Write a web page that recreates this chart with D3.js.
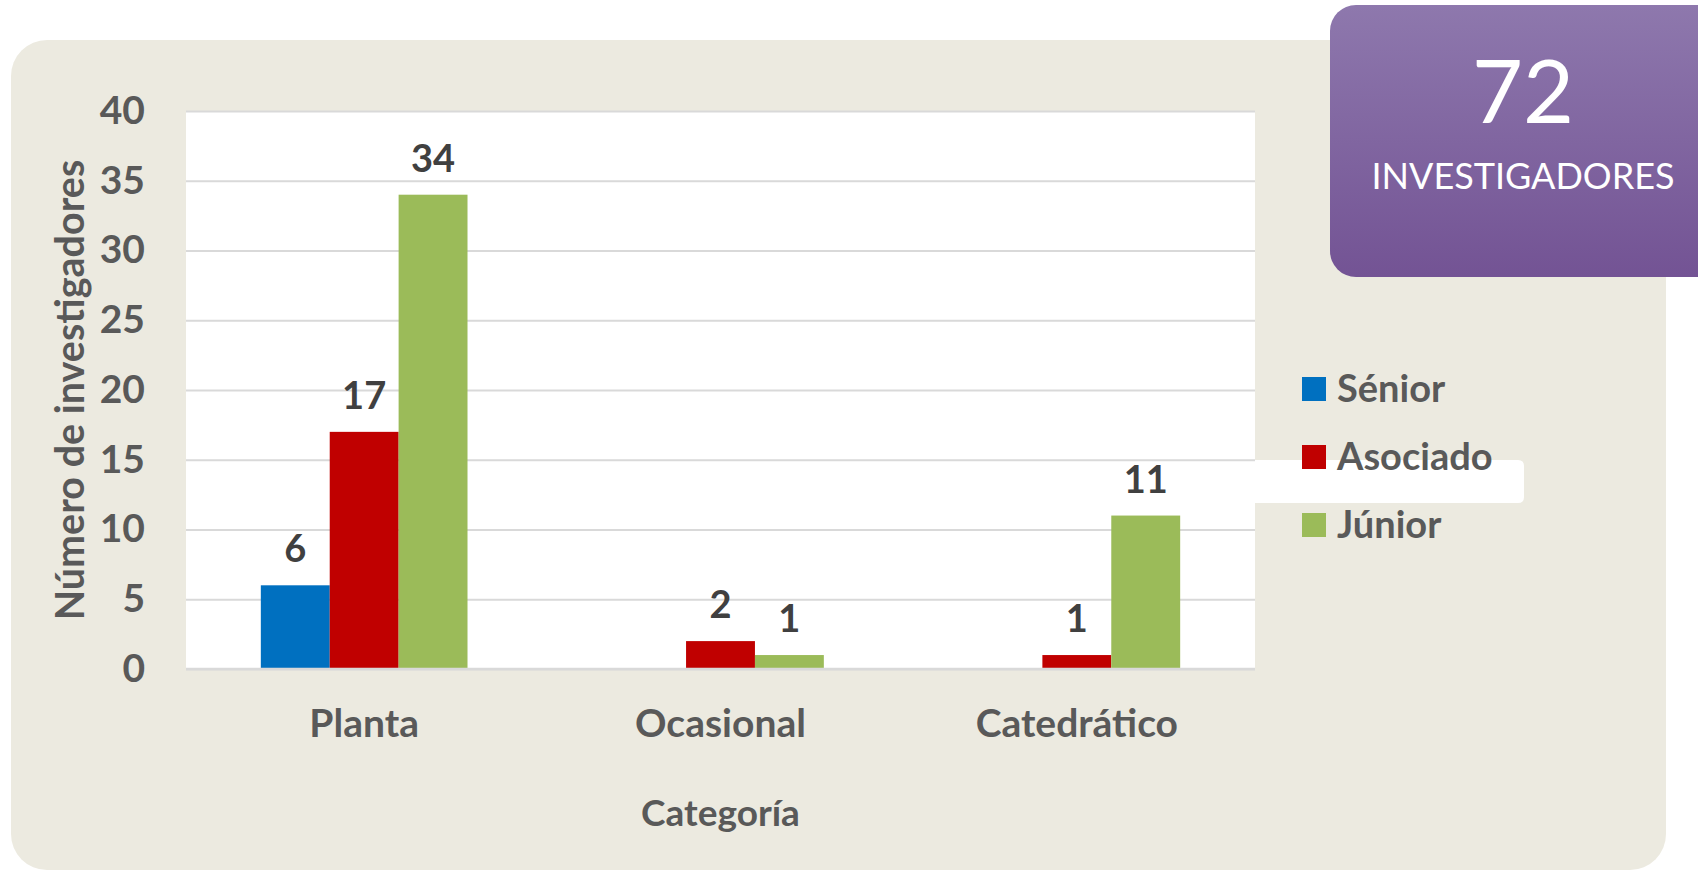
<!DOCTYPE html>
<html>
<head>
<meta charset="utf-8">
<script src="https://cdn.jsdelivr.net/npm/d3@7"></script>
<style>
	html, body { margin: 0; padding: 0; background: #fff; }
	svg { display: block; font-family: Lato, 'Open Sans', sans-serif; }
</style>
</head>
<body>
<svg id="chart" width="1698" height="873"></svg>
<script>
const CATEGORIES = ['Planta', 'Ocasional', 'Catedrático'];
const SERIES = ['Sénior', 'Asociado', 'Júnior'];
const SENIOR = [6, null, null];
const ASOCIADO = [17, 2, 1];
const JUNIOR = [34, 1, 11];
const Y_TICKS = [0, 5, 10, 15, 20, 25, 30, 35, 40];
const COLORS = ['#0070C0', '#C00000', '#9BBB59'];

const Y_TITLE = 'Número de investigadores';
const X_TITLE = 'Categoría';
const BADGE_LABEL = 'INVESTIGADORES';

const PLOT = { left: 186, right: 1255, top: 111, bottom: 669 };
const TEXT = '#595959';

const $svg = d3.select('#chart');

function setupBackground() {
	$svg.append('rect')
		.attr('x', 11).attr('y', 40)
		.attr('width', 1655).attr('height', 830)
		.attr('rx', 36)
		.attr('fill', '#ECEAE0');

	$svg.append('rect')
		.attr('x', PLOT.left).attr('y', PLOT.top)
		.attr('width', PLOT.right - PLOT.left)
		.attr('height', PLOT.bottom - PLOT.top)
		.attr('fill', '#fff');

	// the odd white strip that runs behind the legend
	$svg.append('path')
		.attr('d', 'M1255,460 H1518 Q1524,460 1524,466 V497 Q1524,503 1518,503 H1255 Z')
		.attr('fill', '#fff');
}

function setupChart() {
	const rows = CATEGORIES.map((c, i) => ({
		key: c,
		values: [SENIOR[i], ASOCIADO[i], JUNIOR[i]]
	}));

	const x0 = d3.scaleBand()
		.domain(CATEGORIES)
		.range([PLOT.left, PLOT.right])
		.paddingInner(0.42)
		.paddingOuter(0.21);

	const x1 = d3.scaleBand()
		.domain(SERIES)
		.range([0, x0.bandwidth()]);

	const y = d3.scaleLinear()
		.domain([0, 40])
		.range([PLOT.bottom, PLOT.top]);

	// gridlines
	const yAxis = d3.axisLeft(y).tickValues(Y_TICKS).tickSize(-(PLOT.right - PLOT.left)).tickPadding(40);
	const $y = $svg.append('g')
		.attr('transform', `translate(${PLOT.left},0)`)
		.call(yAxis);
	$y.select('.domain').remove();
	$y.selectAll('.tick line')
		.attr('stroke', '#D9D9D9')
		.attr('stroke-width', 2);
	$y.selectAll('.tick text')
		.attr('x', 145 - PLOT.left)
		.attr('fill', TEXT)
		.attr('font-size', 39)
		.attr('font-weight', 700)
		.attr('font-family', 'Lato');

	const $group = $svg.append('g')
		.selectAll('g')
		.data(rows)
		.join('g')
		.attr('transform', d => `translate(${x0(d.key)},0)`);

	const bars = d => d.values.map((v, i) => ({ series: SERIES[i], value: v, color: COLORS[i] }))
		.filter(b => b.value != null);

	$group.selectAll('rect')
		.data(bars)
		.join('rect')
		.attr('x', d => x1(d.series))
		.attr('y', d => y(d.value))
		.attr('width', x1.bandwidth())
		.attr('height', d => y(0) - y(d.value))
		.attr('fill', d => d.color);

	$group.selectAll('text')
		.data(bars)
		.join('text')
		.attr('x', d => x1(d.series) + x1.bandwidth() / 2)
		.attr('y', d => y(d.value) - 23)
		.attr('text-anchor', 'middle')
		.attr('fill', '#404040')
		.attr('font-size', 38)
		.attr('font-weight', 700)
		.text(d => d.value);

	// baseline
	$svg.append('line')
		.attr('x1', PLOT.left).attr('x2', PLOT.right)
		.attr('y1', y(0)).attr('y2', y(0))
		.attr('stroke', '#D9D9D9')
		.attr('stroke-width', 2.5);

	const xAxis = d3.axisBottom(x0).tickSize(0).tickPadding(40);
	const $x = $svg.append('g')
		.attr('transform', `translate(0,${PLOT.bottom})`)
		.call(xAxis);
	$x.select('.domain').remove();
	$x.selectAll('.tick text')
		.attr('fill', TEXT)
		.attr('font-size', 39)
		.attr('font-weight', 700)
		.attr('font-family', 'Lato');

	$svg.append('text')
		.attr('x', (PLOT.left + PLOT.right) / 2)
		.attr('y', 826)
		.attr('text-anchor', 'middle')
		.attr('fill', TEXT)
		.attr('font-size', 37)
		.attr('font-weight', 700)
		.text(X_TITLE);

	$svg.append('text')
		.attr('transform', `translate(84,${(PLOT.top + PLOT.bottom) / 2}) rotate(-90)`)
		.attr('text-anchor', 'middle')
		.attr('fill', TEXT)
		.attr('font-size', 39.5)
		.attr('font-weight', 700)
		.text(Y_TITLE);
}

function setupLegend() {
	const $item = $svg.append('g')
		.selectAll('g')
		.data(SERIES)
		.join('g')
		.attr('transform', (d, i) => `translate(1302,${377 + i * 68})`);

	$item.append('rect')
		.attr('width', 24).attr('height', 24)
		.attr('fill', (d, i) => COLORS[i]);

	$item.append('text')
		.attr('x', 35)
		.attr('y', 25)
		.attr('fill', TEXT)
		.attr('font-size', 38)
		.attr('font-weight', 700)
		.text(d => d);
}

function setupBadge() {
	const total = d3.sum([...SENIOR, ...ASOCIADO, ...JUNIOR]);

	const grad = $svg.append('defs')
		.append('linearGradient')
		.attr('id', 'badge-grad')
		.attr('x1', 0).attr('y1', 0).attr('x2', 0).attr('y2', 1);
	grad.append('stop').attr('offset', '0%').attr('stop-color', '#8E78AD');
	grad.append('stop').attr('offset', '100%').attr('stop-color', '#735394');

	$svg.append('rect')
		.attr('x', 1330).attr('y', 5)
		.attr('width', 420).attr('height', 272)
		.attr('rx', 26)
		.attr('fill', 'url(#badge-grad)');

	$svg.append('text')
		.attr('x', 1523).attr('y', 123)
		.attr('text-anchor', 'middle')
		.attr('fill', '#fff')
		.attr('font-size', 88)
		.text(total);

	$svg.append('text')
		.attr('x', 1523).attr('y', 189)
		.attr('text-anchor', 'middle')
		.attr('fill', '#fff')
		.attr('font-size', 36)
		.text(BADGE_LABEL);
}

setupBackground();
setupChart();
setupLegend();
setupBadge();
</script>
</body>
</html>
